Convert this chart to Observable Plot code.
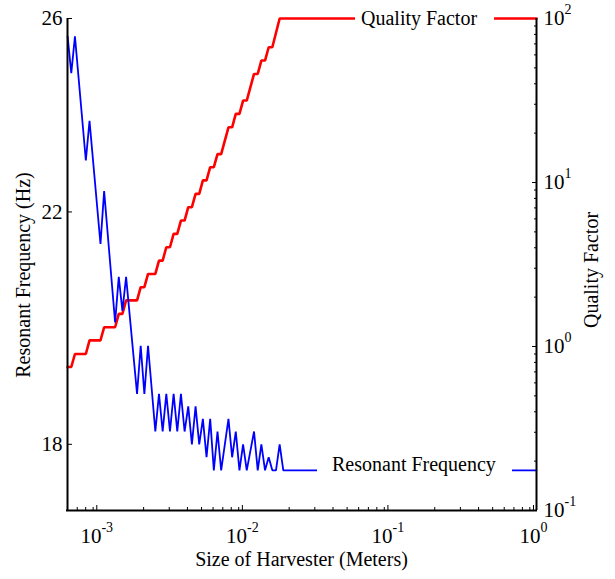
<!DOCTYPE html>
<html>
<head>
<meta charset="utf-8">
<script src="https://cdn.jsdelivr.net/npm/d3@7"></script>
<script src="https://cdn.jsdelivr.net/npm/@observablehq/plot@0.6"></script>
<style>
  body { margin: 0; background: #fff; }
  #chart { width: 615px; height: 579px; }
</style>
</head>
<body>
<div id="chart"></div>
<script>
// ---- data ----
// Size of harvester (m) at each vertex of the blue curve
const blueSize = [6.01e-4, 6.37e-4, 6.75e-4, 8.02e-4, 8.50e-4, 1.011e-3, 1.071e-3, 1.274e-3, 1.350e-3, 1.430e-3,
  1.516e-3, 1.803e-3, 1.910e-3, 2.024e-3, 2.145e-3, 2.407e-3, 2.551e-3, 2.703e-3, 2.864e-3, 3.034e-3,
  3.215e-3, 3.406e-3, 3.609e-3, 3.824e-3, 4.052e-3, 4.293e-3, 4.549e-3, 4.820e-3, 5.107e-3, 5.411e-3,
  5.733e-3, 6.074e-3, 6.436e-3, 6.819e-3, 7.655e-3, 8.111e-3, 8.594e-3, 9.105e-3, 9.647e-3, 1.022e-2,
  1.147e-2, 1.216e-2, 1.288e-2, 1.365e-2, 1.446e-2, 1.532e-2, 1.623e-2, 1.720e-2, 1.822e-2, 1.0];
// Resonant frequency (Hz)
const blueFreq = [25.6, 24.8, 25.6, 23.0, 23.8, 21.4, 22.4, 20.0, 20.8, 20.2,
  20.8, 18.8, 19.6, 18.8, 19.6, 18.2, 18.8, 18.2, 18.8, 18.2,
  18.8, 18.2, 18.8, 18.2, 18.6, 18.0, 18.6, 18.0, 18.4, 17.8,
  18.4, 17.6, 18.2, 17.6, 18.4, 17.8, 18.2, 17.6, 18.0, 17.6,
  18.2, 17.6, 18.0, 17.6, 17.8, 17.6, 17.6, 18.0, 17.6, 17.6];

// Size of harvester (m) at each vertex of the red curve
const redSize = [6.01e-4, 6.37e-4, 6.75e-4, 8.02e-4, 8.50e-4, 1.011e-3, 1.071e-3, 1.274e-3, 1.350e-3, 1.430e-3,
  1.516e-3, 1.803e-3, 1.910e-3, 2.024e-3, 2.145e-3, 2.407e-3, 2.551e-3, 2.703e-3, 2.864e-3, 3.034e-3,
  3.215e-3, 3.406e-3, 3.609e-3, 3.824e-3, 4.052e-3, 4.293e-3, 4.549e-3, 4.820e-3, 5.107e-3, 5.411e-3,
  5.733e-3, 6.074e-3, 6.436e-3, 6.819e-3, 7.655e-3, 8.111e-3, 8.594e-3, 9.105e-3, 9.647e-3, 1.022e-2,
  1.147e-2, 1.216e-2, 1.288e-2, 1.365e-2, 1.446e-2, 1.532e-2, 1.720e-2, 1.0];
// Quality factor
const redQ = [0.75, 0.75, 0.90, 0.90, 1.09, 1.09, 1.31, 1.31, 1.58, 1.58,
  1.91, 1.91, 2.30, 2.30, 2.77, 2.77, 3.34, 3.34, 4.03, 4.03,
  4.86, 4.86, 5.86, 5.86, 7.07, 7.07, 8.52, 8.52, 10.3, 10.3,
  12.4, 12.4, 14.9, 14.9, 21.7, 21.7, 26.2, 26.2, 31.6, 31.6,
  45.9, 45.9, 55.4, 55.4, 66.8, 66.8, 100, 100];

// axes
const xDomain = [6e-4, 1];
const freqDomain = [17, 26];
const qDomain = [0.1, 100];
const xMajorTicks = [1e-3, 1e-2, 1e-1, 1];
const xMinorTicks = [7e-4, 8e-4, 9e-4, 2e-3, 3e-3, 4e-3, 5e-3, 6e-3, 7e-3, 8e-3, 9e-3,
  2e-2, 3e-2, 4e-2, 5e-2, 6e-2, 7e-2, 8e-2, 9e-2, 0.2, 0.3, 0.4, 0.5, 0.6, 0.7, 0.8, 0.9];
const freqTicks = [18, 22, 26];
const qMajorTicks = [0.1, 1, 10, 100];
const qMinorTicks = [0.2, 0.3, 0.4, 0.5, 0.6, 0.7, 0.8, 0.9, 2, 3, 4, 5, 6, 7, 8, 9,
  20, 30, 40, 50, 60, 70, 80, 90];

const xTitle = "Size of Harvester (Meters)";
const yLeftTitle = "Resonant Frequency (Hz)";
const yRightTitle = "Quality Factor";
const legendQ = "Quality Factor";
const legendF = "Resonant Frequency";

// ---- twin axis mapping: Q (log) -> frequency scale (log) ----
const lq0 = Math.log10(qDomain[0]), lq1 = Math.log10(qDomain[1]);
const lf0 = Math.log10(freqDomain[0]), lf1 = Math.log10(freqDomain[1]);
const qToF = q => Math.pow(10, lf0 + (Math.log10(q) - lq0) / (lq1 - lq0) * (lf1 - lf0));
const fToQexp = f => Math.round(lq0 + (Math.log10(f) - lf0) / (lf1 - lf0) * (lq1 - lq0));

const blue = blueSize.map((s, i) => ({size: s, freq: blueFreq[i]}));
const red = redSize.map((s, i) => ({size: s, q: redQ[i]}));

const FONT = "'Liberation Serif', 'Times New Roman', Times, serif";

const plot = Plot.plot({
  width: 615,
  height: 579,
  marginLeft: 67,
  marginRight: 79,
  marginTop: 18,
  marginBottom: 69,
  style: {fontFamily: FONT, fontSize: "21px", color: "black", background: "white", overflow: "visible"},
  x: {type: "log", domain: xDomain},
  y: {type: "log", domain: freqDomain},
  marks: [
    Plot.axisX({ticks: xMinorTicks, tickSize: -3, tickFormat: () => "", label: null}),
    Plot.axisX({ticks: xMajorTicks, tickSize: -5, tickPadding: 23, tickFormat: d => "10^" + Math.round(Math.log10(d)), label: null, fontSize: 21, dx: -3}),
    Plot.axisY({ticks: freqTicks, tickSize: -5, tickPadding: 10, tickFormat: d => String(d), label: null, fontSize: 21}),
    Plot.axisY({anchor: "right", ticks: qMinorTicks.map(qToF), tickSize: -3, tickFormat: () => "", label: null}),
    Plot.axisY({anchor: "right", ticks: qMajorTicks.map(qToF), tickSize: -5, tickPadding: 12, tickFormat: f => "10^" + fToQexp(f), label: null, fontSize: 21}),
    Plot.line(red, {x: "size", y: d => qToF(d.q), stroke: "#ff0000", strokeWidth: 2.6, strokeLinejoin: "miter"}),
    Plot.line(blue, {x: "size", y: "freq", stroke: "#0000ff", strokeWidth: 1.8, strokeLinejoin: "miter"}),
    Plot.ruleX([xDomain[0]], {stroke: "black", strokeWidth: 2}),
    Plot.ruleX([xDomain[1]], {stroke: "black", strokeWidth: 2}),
    Plot.ruleY([freqDomain[0]], {stroke: "black", strokeWidth: 2, insetLeft: -1, insetRight: -1})
  ]
});

const svg = d3.select(plot);

// superscript tick labels 10^k
svg.selectAll("text").each(function() {
  const m = /^10\^(-?\d+)$/.exec(this.textContent);
  if (m) {
    const t = d3.select(this);
    t.text(null);
    t.append("tspan").text("10");
    t.append("tspan").attr("dy", -11).attr("font-size", 14).text(m[1]);
  }
});

// legends (white boxes over the lines)
const leg = svg.append("g").attr("font-family", FONT).attr("font-size", 20).attr("fill", "black").attr("text-anchor", "start");
leg.append("rect").attr("x", 355).attr("y", 6).attr("width", 139).attr("height", 26).attr("fill", "white");
leg.append("text").attr("x", 361).attr("y", 25).text(legendQ);
leg.append("rect").attr("x", 317).attr("y", 456).attr("width", 195).attr("height", 26).attr("fill", "white");
leg.append("text").attr("x", 332).attr("y", 471).text(legendF);

// axis titles
const ttl = svg.append("g").attr("font-family", FONT).attr("font-size", 20).attr("fill", "black").attr("text-anchor", "middle");
ttl.append("text").attr("x", 301.5).attr("y", 566).text(xTitle);
ttl.append("text").attr("transform", "translate(30,275) rotate(-90)").text(yLeftTitle);
ttl.append("text").attr("transform", "translate(598,270) rotate(-90)").text(yRightTitle);

document.getElementById("chart").appendChild(plot);
</script>
</body>
</html>
